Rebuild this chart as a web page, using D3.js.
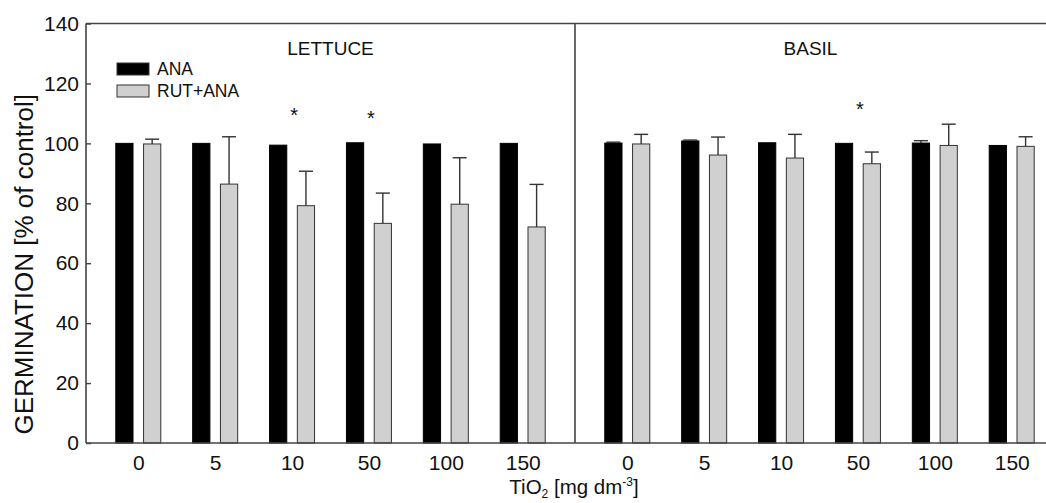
<!DOCTYPE html>
<html>
<head>
<meta charset="utf-8">
<script src="https://cdn.jsdelivr.net/npm/d3@7"></script>
<style>
  body { margin: 0; background: #fff; }
  text { font-family: Arial, "Liberation Sans", sans-serif; fill: #111; }
</style>
</head>
<body>
<div class="canvas"></div>
<script>
// TiO2 concentrations on the x axis
const doses = ['0', '5', '10', '50', '100', '150'];
const treatments = ['ANA', 'RUT+ANA'];
const panels = ['LETTUCE', 'BASIL'];

// germination [% of control]
const lettuceAna = [100, 100, 99.4, 100.2, 99.8, 100];
const lettuceAnaErr = [0, 0, 0, 0, 0, 0];
const lettuceRut = [99.8, 86.4, 79.2, 73.3, 79.7, 72.1];
const lettuceRutErr = [1.6, 15.8, 11.5, 10.1, 15.5, 14.2];
const basilAna = [100.1, 100.8, 100.2, 100, 100.1, 99.3];
const basilAnaErr = [0.3, 0.3, 0, 0, 0.8, 0];
const basilRut = [99.8, 96.1, 95.1, 93.2, 99.3, 99];
const basilRutErr = [3.2, 6, 7.9, 3.9, 7.1, 3.2];

// significance stars (panel, dose, height)
const starPanel = ['LETTUCE', 'LETTUCE', 'BASIL'];
const starDose = ['10', '50', '50'];
const starY = [110, 109, 112];

const yTicks = [0, 20, 40, 60, 80, 100, 120, 140];

const width = 1046, height = 503;
const margin = { top: 23.5, left: 86, bottom: 60 };
const panelWidth = 489;
const baseY = height - margin.bottom;
const lineColour = '#444';

const svg = d3.select('.canvas')
  .append('svg')
    .attr('width', width)
    .attr('height', height);

// y scale shared by both panels
const y = d3.scaleLinear().domain([0, 140]).range([baseY, margin.top]);

// one point scale per panel
const xPanel = {};
panels.forEach((p, i) => {
  const x0 = margin.left + i * panelWidth;
  xPanel[p] = d3.scalePoint().domain(doses).range([x0, x0 + panelWidth]).padding(0.68);
});

// position of the two bars inside a group
const xInner = d3.scaleBand().domain(treatments).range([-22.5, 22.5]).paddingInner(0.38);

const colour = d3.scaleOrdinal().domain(treatments).range(['#000', '#d0d0d0']);

// build rows from the arrays
const rows = [];
const series = {
  LETTUCE: [[lettuceAna, lettuceAnaErr], [lettuceRut, lettuceRutErr]],
  BASIL: [[basilAna, basilAnaErr], [basilRut, basilRutErr]]
};
panels.forEach(p => {
  treatments.forEach((t, ti) => {
    doses.forEach((d, di) => {
      rows.push({ panel: p, treatment: t, dose: d,
        value: series[p][ti][0][di], err: series[p][ti][1][di] });
    });
  });
});

const barX = d => xPanel[d.panel](d.dose) + xInner(d.treatment);

// bars
svg.selectAll('rect.bar')
  .data(rows)
  .enter()
  .append('rect')
    .attr('class', 'bar')
    .attr('x', barX)
    .attr('y', d => y(d.value))
    .attr('width', xInner.bandwidth())
    .attr('height', d => baseY - y(d.value))
    .attr('fill', d => colour(d.treatment))
    .attr('stroke', d => d.treatment === 'ANA' ? '#000' : '#333')
    .attr('stroke-width', 1);

// error bars (only upper half)
const errRows = rows.filter(d => d.err > 0);
const errG = svg.append('g')
  .attr('stroke', '#333')
  .attr('stroke-width', 1.4);

errG.selectAll('line.stem')
  .data(errRows)
  .enter()
  .append('line')
    .attr('x1', d => barX(d) + xInner.bandwidth() / 2)
    .attr('x2', d => barX(d) + xInner.bandwidth() / 2)
    .attr('y1', d => y(d.value))
    .attr('y2', d => y(d.value + d.err));

errG.selectAll('line.cap')
  .data(errRows)
  .enter()
  .append('line')
    .attr('x1', d => barX(d) + xInner.bandwidth() / 2 - 7)
    .attr('x2', d => barX(d) + xInner.bandwidth() / 2 + 7)
    .attr('y1', d => y(d.value + d.err))
    .attr('y2', d => y(d.value + d.err));

// frame: left axis, top, divider, baseline
const frame = svg.append('g')
  .attr('stroke', lineColour)
  .attr('stroke-width', 1.6)
  .attr('fill', 'none');

frame.append('line')
  .attr('x1', margin.left).attr('x2', margin.left)
  .attr('y1', y(140)).attr('y2', baseY);
frame.append('line')
  .attr('x1', margin.left).attr('x2', width)
  .attr('y1', y(140)).attr('y2', y(140));
frame.append('line')
  .attr('x1', margin.left).attr('x2', width)
  .attr('y1', baseY).attr('y2', baseY);
frame.append('line')
  .attr('x1', margin.left + panelWidth).attr('x2', margin.left + panelWidth)
  .attr('y1', y(140)).attr('y2', baseY);

// y axis with inward ticks
const yAxisGroup = svg.append('g')
  .attr('transform', `translate(${margin.left}, 0)`)
  .call(d3.axisLeft(y).tickValues(yTicks).tickSizeInner(-5).tickSizeOuter(0).tickPadding(7));
yAxisGroup.select('.domain').remove();
yAxisGroup.selectAll('line').attr('stroke', lineColour).attr('stroke-width', 1.4);
yAxisGroup.selectAll('text')
  .attr('font-size', 21)
  .attr('fill', '#111')
  .style('font-family', 'Arial, "Liberation Sans", sans-serif');

// x tick labels under each panel
panels.forEach(p => {
  const g = svg.append('g')
    .attr('transform', `translate(0, ${baseY})`)
    .call(d3.axisBottom(xPanel[p]).tickSize(0).tickPadding(12));
  g.select('.domain').remove();
  g.selectAll('text')
    .attr('font-size', 21)
    .attr('fill', '#111')
    .style('font-family', 'Arial, "Liberation Sans", sans-serif');
});

// panel titles
svg.selectAll('text.panel')
  .data(panels)
  .enter()
  .append('text')
    .attr('class', 'panel')
    .attr('x', (d, i) => i === 0 ? margin.left + panelWidth / 2 : (margin.left + panelWidth + width) / 2)
    .attr('y', 55)
    .attr('text-anchor', 'middle')
    .attr('font-size', 19)
    .text(d => d);

// stars
svg.selectAll('text.star')
  .data(starDose)
  .enter()
  .append('text')
    .attr('class', 'star')
    .attr('x', (d, i) => xPanel[starPanel[i]](d) + 2)
    .attr('y', (d, i) => y(starY[i]) + 9)
    .attr('text-anchor', 'middle')
    .attr('font-size', 20)
    .text('*');

// legend
const legend = svg.selectAll('.legend')
  .data(treatments)
  .enter()
  .append('g')
    .attr('class', 'legend')
    .attr('transform', (d, i) => `translate(117, ${63 + i * 22})`);

legend.append('rect')
  .attr('width', 32)
  .attr('height', 12)
  .attr('fill', colour)
  .attr('stroke', '#333');

legend.append('text')
  .attr('x', 40)
  .attr('y', 12)
  .attr('font-size', 17.5)
  .text(d => d);

// axis titles
svg.append('text')
  .attr('transform', `translate(33, ${(baseY + y(140)) / 2 + 31}) rotate(-90)`)
  .attr('text-anchor', 'middle')
  .attr('font-size', 26)
  .text('GERMINATION [% of control]');

const xTitle = svg.append('text')
  .attr('x', margin.left + panelWidth - 1)
  .attr('y', 494)
  .attr('text-anchor', 'middle')
  .attr('font-size', 20.5);
xTitle.append('tspan').text('TiO');
xTitle.append('tspan').attr('font-size', 12).attr('dy', 4).text('2');
xTitle.append('tspan').attr('dy', -4).text(' [mg dm');
xTitle.append('tspan').attr('font-size', 12).attr('dy', -8).text('-3');
xTitle.append('tspan').attr('dy', 8).text(']');
</script>
</body>
</html>
